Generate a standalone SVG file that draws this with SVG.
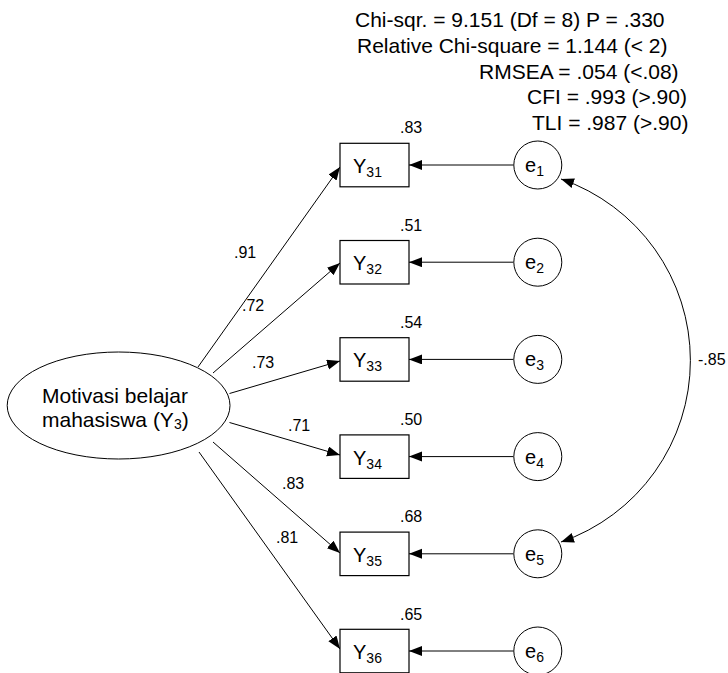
<svg xmlns="http://www.w3.org/2000/svg" width="728" height="673" viewBox="0 0 728 673">
<defs>
<marker id="ah" markerUnits="userSpaceOnUse" markerWidth="14" markerHeight="11" refX="13" refY="5" orient="auto-start-reverse">
<path d="M0,0 L13,5 L0,10 z" fill="#000"/>
</marker>
<style>
text{font-family:"Liberation Sans",Arial,sans-serif;fill:#000}
.st{font-size:21px}
.lb{font-size:16px}
.nm{font-size:20px}
.sb{font-size:14px}
.box{fill:#fff;stroke:#000;stroke-width:1.2}
.circ{fill:#fff;stroke:#000;stroke-width:1}
.cn{fill:none;stroke:#000;stroke-width:1;marker-end:url(#ah)}
</style>
</defs>
<rect width="728" height="673" fill="#fff"/>
<g id="fit">
<text class="st" x="355" y="27">Chi-sqr. = 9.151 (Df = 8) P = .330</text>
<text class="st" x="357" y="53">Relative Chi-square = 1.144 (&lt; 2)</text>
<text class="st" x="479" y="78.5">RMSEA = .054 (&lt;.08)</text>
<text class="st" x="527" y="104">CFI = .993 (&gt;.90)</text>
<text class="st" x="532" y="129.5">TLI = .987 (&gt;.90)</text>
</g>
<g id="connectors">
<line class="cn" x1="198" y1="367" x2="340" y2="167"/>
<line class="cn" x1="213" y1="373" x2="340" y2="263"/>
<line class="cn" x1="229.5" y1="393.5" x2="340" y2="361"/>
<line class="cn" x1="229.5" y1="422.5" x2="340" y2="455"/>
<line class="cn" x1="213" y1="442" x2="340" y2="553"/>
<line class="cn" x1="199" y1="452" x2="340" y2="649"/>
<line class="cn" x1="513.5" y1="165" x2="409" y2="165"/>
<line class="cn" x1="513.5" y1="262.2" x2="409" y2="262.2"/>
<line class="cn" x1="513.5" y1="359.4" x2="409" y2="359.4"/>
<line class="cn" x1="513.5" y1="456.6" x2="409" y2="456.6"/>
<line class="cn" x1="513.5" y1="553.8" x2="409" y2="553.8"/>
<line class="cn" x1="513.5" y1="651" x2="409" y2="651"/>
<path class="cn" style="marker-start:url(#ah)" d="M561,179 A192,192 0 0 1 561,542"/>
<text class="lb" x="234" y="258">.91</text>
<text class="lb" x="242" y="311">.72</text>
<text class="lb" x="252" y="368">.73</text>
<text class="lb" x="288" y="431">.71</text>
<text class="lb" x="282" y="489">.83</text>
<text class="lb" x="276" y="543">.81</text>
<text class="lb" x="698" y="365">-.85</text>
</g>
<g id="Y3">
<ellipse cx="118.6" cy="405.5" rx="111.4" ry="53.5" class="circ"/>
<text class="st" x="42" y="403">Motivasi belajar</text>
<text class="st" x="42" y="427">mahasiswa (Y<tspan font-size="14" dy="2">3</tspan><tspan dy="-2">)</tspan></text>
</g>
<g id="Y31">
<rect class="box" x="340" y="143.3" width="69" height="43.5"/>
<text class="nm" x="353" y="173">Y<tspan class="sb" dy="4">31</tspan></text>
<text class="lb" x="400" y="133.3">.83</text>
</g>
<g id="Y32">
<rect class="box" x="340" y="240.5" width="69" height="43.5"/>
<text class="nm" x="353" y="270.2">Y<tspan class="sb" dy="4">32</tspan></text>
<text class="lb" x="400" y="230.5">.51</text>
</g>
<g id="Y33">
<rect class="box" x="340" y="337.7" width="69" height="43.5"/>
<text class="nm" x="353" y="367.4">Y<tspan class="sb" dy="4">33</tspan></text>
<text class="lb" x="400" y="327.7">.54</text>
</g>
<g id="Y34">
<rect class="box" x="340" y="434.9" width="69" height="43.5"/>
<text class="nm" x="353" y="464.6">Y<tspan class="sb" dy="4">34</tspan></text>
<text class="lb" x="400" y="424.9">.50</text>
</g>
<g id="Y35">
<rect class="box" x="340" y="532.1" width="69" height="43.5"/>
<text class="nm" x="353" y="561.8">Y<tspan class="sb" dy="4">35</tspan></text>
<text class="lb" x="400" y="522.1">.68</text>
</g>
<g id="Y36">
<rect class="box" x="340" y="629.3" width="69" height="43.5"/>
<text class="nm" x="353" y="659">Y<tspan class="sb" dy="4">36</tspan></text>
<text class="lb" x="400" y="620">.65</text>
</g>
<g id="e1"><circle class="circ" cx="537.8" cy="165" r="24"/><text class="nm" x="525" y="172">e<tspan class="sb" dy="4">1</tspan></text></g>
<g id="e2"><circle class="circ" cx="537.8" cy="262.2" r="24"/><text class="nm" x="525" y="269.2">e<tspan class="sb" dy="4">2</tspan></text></g>
<g id="e3"><circle class="circ" cx="537.8" cy="359.4" r="24"/><text class="nm" x="525" y="366.4">e<tspan class="sb" dy="4">3</tspan></text></g>
<g id="e4"><circle class="circ" cx="537.8" cy="456.6" r="24"/><text class="nm" x="525" y="463.6">e<tspan class="sb" dy="4">4</tspan></text></g>
<g id="e5"><circle class="circ" cx="537.8" cy="553.8" r="24"/><text class="nm" x="525" y="560.8">e<tspan class="sb" dy="4">5</tspan></text></g>
<g id="e6"><circle class="circ" cx="537.8" cy="651" r="24"/><text class="nm" x="525" y="658">e<tspan class="sb" dy="4">6</tspan></text></g>
</svg>
